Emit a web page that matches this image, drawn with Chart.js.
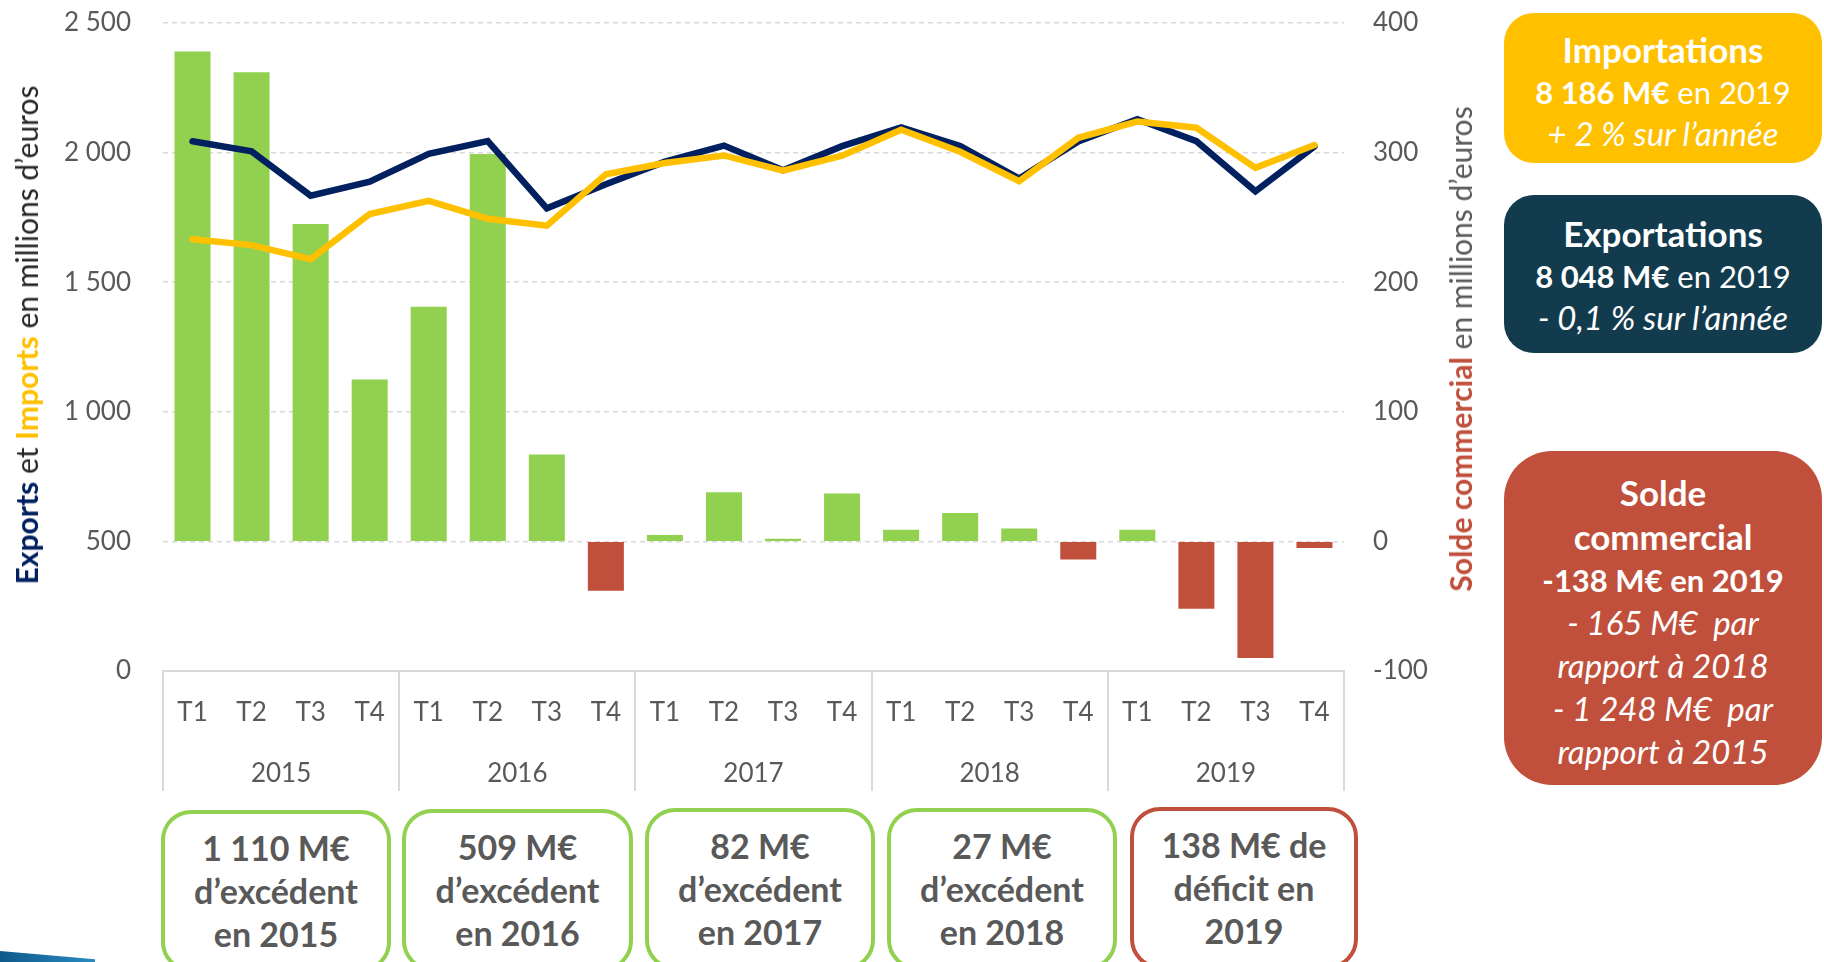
<!DOCTYPE html>
<html>
<head>
<meta charset="utf-8">
<script src="https://cdn.jsdelivr.net/npm/chart.js@4"></script>
<style>
html,body{margin:0;padding:0;width:1824px;height:962px;overflow:hidden;background:#fff;font-family:Lato,'Open Sans',sans-serif;}
#wrap{position:relative;width:1824px;height:962px;overflow:hidden;}
#c{position:absolute;left:0;top:0;}
.vt{position:absolute;white-space:nowrap;font-size:30px;line-height:1;transform:translate(-50%,-50%) rotate(-90deg);}
.rbox{position:absolute;left:1504px;width:318px;box-sizing:border-box;color:#fff;text-align:center;font-size:32px;line-height:41px;}
.rbox .t{font-size:35px;font-weight:700;}
.rbox .n{font-size:31px;}
.rbox .it{font-size:33px;font-style:italic;}
.bbox{position:absolute;box-sizing:border-box;background:#fff;border:4px solid #92D050;border-radius:30px;text-align:center;font-weight:700;color:#595959;font-size:34px;line-height:43px;}
b{font-weight:700;}
</style>
</head>
<body>
<div id="wrap">
<canvas id="c" width="1480" height="800"></canvas>

<div class="vt" style="left:26px;top:335px;color:#262626;"><span style="color:#002060;font-weight:700">Exports</span> et <span style="color:#FFC000;font-weight:700">Imports</span> en millions d’euros</div>
<div class="vt" style="left:1460px;top:349px;color:#595959;"><span style="color:#C0503C;font-weight:700">Solde commercial</span> en millions d’euros</div>

<div class="rbox" style="top:13px;height:150px;padding-top:16px;background:#FFC000;border-radius:30px;">
<span class="t">Importations</span><br><span class="n"><b>8 186 M€</b> en 2019</span><br><span class="it">+ 2 % sur l’année</span>
</div>
<div class="rbox" style="top:195px;height:158px;padding-top:18px;background:#123C4E;border-radius:30px;">
<span class="t">Exportations</span><br><span class="n"><b>8 048 M€</b> en 2019</span><br><span class="it">- 0,1 % sur l’année</span>
</div>
<div class="rbox" style="top:451px;height:334px;padding-top:20px;background:#C0503C;border-radius:48px;line-height:42px;">
<span class="t">Solde</span><br><span class="t">commercial</span><br><span class="n"><b>-138 M€ en 2019</b></span><br><span class="it">- 165 M€&nbsp; par</span><br><span class="it">rapport à 2018</span><br><span class="it">- 1 248 M€&nbsp; par</span><br><span class="it">rapport à 2015</span>
</div>

<div class="bbox" style="left:161px;top:810px;width:230px;height:162px;padding-top:12px;">1 110 M€<br>d’excédent<br>en 2015</div>
<div class="bbox" style="left:402px;top:809px;width:231px;height:162px;padding-top:12px;">509 M€<br>d’excédent<br>en 2016</div>
<div class="bbox" style="left:645px;top:808px;width:230px;height:162px;padding-top:12px;">82 M€<br>d’excédent<br>en 2017</div>
<div class="bbox" style="left:887px;top:808px;width:230px;height:162px;padding-top:12px;">27 M€<br>d’excédent<br>en 2018</div>
<div class="bbox" style="left:1130px;top:807px;width:228px;height:162px;padding-top:12px;border-color:#C0503C;">138 M€ de<br>déficit en<br>2019</div>

<div style="position:absolute;left:0;top:951px;width:95px;height:11px;background:linear-gradient(90deg,#0E5A8A,#2A8BC0);clip-path:polygon(0 0,100% 75%,100% 100%,0 100%);"></div>
</div>

<script>
// ---- Data ----
const years = ['2015', '2016', '2017', '2018', '2019'];
const quarters = ['T1', 'T2', 'T3', 'T4'];
const exportsData = [2044, 2005, 1834, 1888, 1995, 2044, 1785, 1878, 1965, 2027, 1932, 2025, 2097, 2025, 1900, 2043, 2129, 2044, 1851, 2024];
const importsData = [1666, 1643, 1589, 1763, 1814, 1745, 1718, 1916, 1960, 1989, 1930, 1988, 2088, 2003, 1890, 2057, 2120, 2096, 1941, 2029];
const soldeData = [378, 362, 245, 125, 181, 299, 67, -38, 5, 38, 2, 37, 9, 22, 10, -14, 9, -52, -90, -5];
const leftAxisTicks = [0, 500, 1000, 1500, 2000, 2500];
const rightAxisTicks = [-100, 0, 100, 200, 300, 400];

// ---- Styles ----
const GREEN = '#92D050', RED = '#C0503C', NAVY = '#002060', YELLOW = '#FFC000';
const GRID = '#D9D9D9', TXT = '#595959', NONE = 'rgba(0,0,0,0)';
Chart.defaults.font.family = "Lato, 'Open Sans', sans-serif";

const labels = years.flatMap(() => quarters);
const fmt = v => String(v).replace(/\B(?=(\d{3})+(?!\d))/g, ' ');
const tickFont = { family: "Lato, 'Open Sans', sans-serif", size: 26 };

new Chart(document.getElementById('c'), {
  type: 'bar',
  data: {
    labels: labels,
    datasets: [
      { type: 'line', label: 'Imports', data: importsData, yAxisID: 'y', borderColor: YELLOW, borderWidth: 6.5,
        pointRadius: 0, tension: 0, fill: false, order: 0, borderCapStyle: 'round', borderJoinStyle: 'miter' },
      { type: 'line', label: 'Exports', data: exportsData, yAxisID: 'y', borderColor: NAVY, borderWidth: 6.5,
        pointRadius: 0, tension: 0, fill: false, order: 1, borderCapStyle: 'round', borderJoinStyle: 'miter' },
      { type: 'bar', label: 'Solde commercial', data: soldeData, yAxisID: 'y1',
        backgroundColor: soldeData.map(v => v >= 0 ? GREEN : RED),
        barPercentage: 0.61, categoryPercentage: 1, order: 2 }
    ]
  },
  options: {
    responsive: false,
    animation: false,
    devicePixelRatio: 1,
    layout: { autoPadding: false, padding: { top: 23, bottom: 9, left: 0, right: 0 } },
    plugins: { legend: { display: false }, tooltip: { enabled: false } },
    scales: {
      x: {
        type: 'category', position: 'bottom', weight: 0, offset: true,
        grid: {
          offset: true, drawOnChartArea: false, drawTicks: true, tickLength: 120, lineWidth: 2,
          color: c => (c.index === undefined || c.index % quarters.length === 0) ? GRID : NONE
        },
        border: { display: true, color: GRID, width: 2 },
        ticks: { padding: -94, color: TXT, font: tickFont, maxRotation: 0, autoSkip: false },
        afterFit: s => { s.height = 58; }
      },
      x2: {
        type: 'category', labels: years, position: 'bottom', weight: 1, offset: true,
        grid: { display: false, drawTicks: false },
        border: { display: false },
        ticks: { padding: 29, color: TXT, font: tickFont, maxRotation: 0, autoSkip: false },
        afterFit: s => { s.height = 62; }
      },
      y: {
        position: 'left',
        min: leftAxisTicks[0], max: leftAxisTicks[leftAxisTicks.length - 1],
        afterBuildTicks: s => { s.ticks = leftAxisTicks.map(v => ({ value: v })); },
        grid: { color: GRID, lineWidth: 1.5, drawTicks: true, tickLength: 30, tickColor: NONE },
        border: { display: false, dash: [5, 4] },
        ticks: { padding: 2, color: TXT, font: tickFont, callback: v => fmt(v) },
        afterFit: s => { s.width = 163; }
      },
      y1: {
        position: 'right',
        min: rightAxisTicks[0], max: rightAxisTicks[rightAxisTicks.length - 1],
        afterBuildTicks: s => { s.ticks = rightAxisTicks.map(v => ({ value: v })); },
        grid: { display: true, drawOnChartArea: false, drawTicks: true, tickLength: 27, color: NONE, tickColor: NONE },
        border: { display: false },
        ticks: { padding: 2, color: TXT, font: tickFont, callback: v => fmt(v) },
        afterFit: s => { s.width = 136; }
      }
    }
  }
});
</script>
</body>
</html>
